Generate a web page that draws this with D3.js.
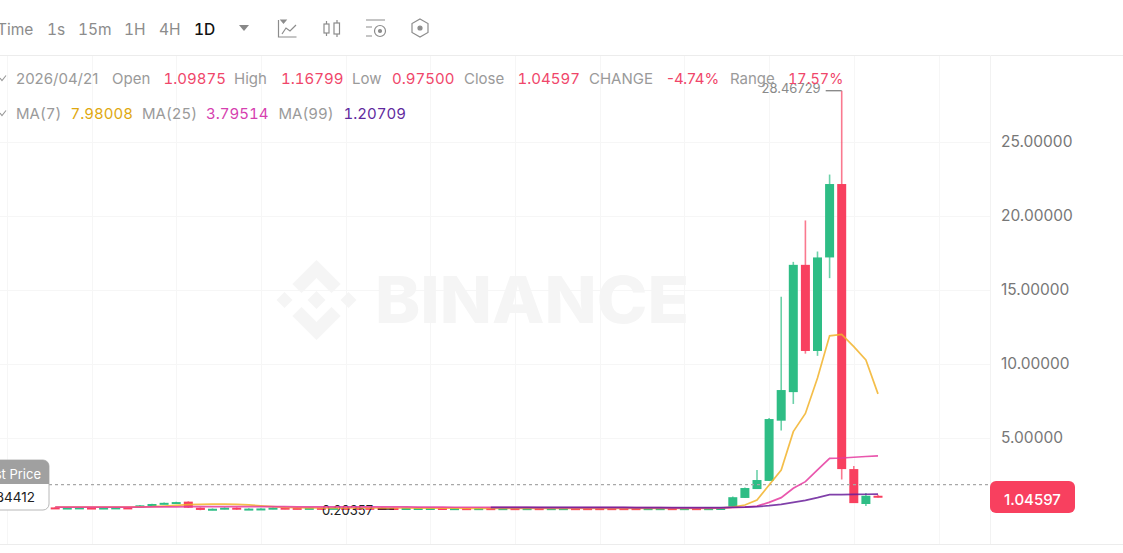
<!DOCTYPE html>
<html>
<head>
<meta charset="utf-8">
<script src="https://d3js.org/d3.v7.min.js"></script>
<style>
  html, body { margin: 0; padding: 0; background: #fff; overflow: hidden; }
  svg { display: block; }
  text { font-family: Inter, "Open Sans", sans-serif; }
</style>
</head>
<body>
<div id="chart"></div>
<script>
// daily candles, oldest first (last one is 2026/04/21)
const opens = [
  0.31, 0.22, 0.23, 0.30, 0.22, 0.23, 0.31, 0.37, 0.45, 0.54, 0.58,
  0.70, 0.29, 0.14, 0.20, 0.29, 0.15, 0.16, 0.21, 0.29, 0.28, 0.21,
  0.28, 0.21, 0.28, 0.28, 0.28, 0.28, 0.27, 0.21, 0.21, 0.21, 0.27,
  0.18, 0.26, 0.18, 0.26, 0.17, 0.26, 0.17, 0.26, 0.17, 0.18, 0.26,
  0.26, 0.26, 0.26, 0.26, 0.26, 0.17, 0.18, 0.26, 0.17, 0.26, 0.18,
  0.19, 0.36, 0.95, 1.55, 2.10, 6.17, 8.10, 16.70, 10.88, 17.20,
  22.16, 2.90, 0.54, 1.09875
];
const closes = [
  0.22, 0.30, 0.31, 0.22, 0.30, 0.31, 0.23, 0.45, 0.54, 0.62, 0.67,
  0.29, 0.14, 0.22, 0.29, 0.17, 0.23, 0.24, 0.29, 0.21, 0.21, 0.28,
  0.21, 0.28, 0.21, 0.21, 0.21, 0.21, 0.21, 0.27, 0.27, 0.27, 0.19,
  0.26, 0.18, 0.26, 0.18, 0.26, 0.17, 0.26, 0.17, 0.26, 0.26, 0.18,
  0.18, 0.18, 0.17, 0.17, 0.17, 0.26, 0.26, 0.17, 0.26, 0.17, 0.26,
  0.27, 1.00, 1.62, 2.16, 6.28, 8.24, 16.70, 10.88, 17.20, 22.16,
  2.90, 0.60, 1.10, 1.04597
];
const highs = [
  0.33, 0.32, 0.33, 0.32, 0.32, 0.33, 0.33, 0.47, 0.56, 0.64, 0.69,
  0.72, 0.31, 0.24, 0.31, 0.31, 0.25, 0.26, 0.31, 0.31, 0.30, 0.30,
  0.30, 0.30, 0.30, 0.30, 0.30, 0.30, 0.29, 0.29, 0.29, 0.29, 0.29,
  0.28, 0.28, 0.28, 0.28, 0.28, 0.28, 0.28, 0.28, 0.28, 0.28, 0.28,
  0.28, 0.28, 0.28, 0.28, 0.28, 0.28, 0.28, 0.28, 0.28, 0.28, 0.28,
  0.29, 1.05, 1.66, 2.84, 6.35, 14.55, 16.90, 19.70, 17.60, 22.80,
  28.46729, 3.10, 1.28, 1.16799
];
const lows = [
  0.20, 0.20, 0.21, 0.20, 0.20, 0.21, 0.21, 0.35, 0.43, 0.52, 0.56,
  0.27, 0.12, 0.12, 0.18, 0.15, 0.13, 0.14, 0.19, 0.19, 0.19, 0.19,
  0.19, 0.19, 0.19, 0.19, 0.19, 0.19, 0.20357, 0.21, 0.21, 0.21, 0.17,
  0.16, 0.16, 0.16, 0.16, 0.15, 0.15, 0.15, 0.15, 0.15, 0.16, 0.16,
  0.16, 0.16, 0.15, 0.15, 0.15, 0.15, 0.16, 0.15, 0.15, 0.15, 0.16,
  0.17, 0.36, 0.95, 1.55, 2.10, 5.50, 7.30, 10.70, 10.55, 15.80,
  2.20, 0.60, 0.40, 0.97500
];
const ma7 = [
  0.33, 0.33, 0.33, 0.33, 0.33, 0.33, 0.33, 0.34, 0.36, 0.40, 0.45,
  0.50, 0.52, 0.53, 0.53, 0.52, 0.48, 0.42, 0.36, 0.31, 0.29, 0.28,
  0.27, 0.27, 0.27, 0.27, 0.27, 0.27, 0.27, 0.27, 0.26, 0.26, 0.26,
  0.26, 0.25, 0.25, 0.25, 0.25, 0.25, 0.25, 0.25, 0.25, 0.25, 0.25,
  0.25, 0.25, 0.25, 0.25, 0.25, 0.25, 0.25, 0.25, 0.25, 0.25, 0.25,
  0.26, 0.33, 0.47, 0.81, 1.82, 2.84, 5.43, 6.66, 9.05, 11.90,
  12.00, 11.17, 10.27, 7.98008
];
const ma25 = [
  0.33, 0.33, 0.33, 0.33, 0.33, 0.33, 0.33, 0.33, 0.34, 0.34, 0.35,
  0.36, 0.36, 0.36, 0.36, 0.36, 0.36, 0.36, 0.36, 0.36, 0.35, 0.35,
  0.35, 0.35, 0.35, 0.35, 0.35, 0.34, 0.34, 0.34, 0.33, 0.33, 0.33,
  0.32, 0.32, 0.32, 0.31, 0.31, 0.31, 0.31, 0.30, 0.30, 0.30, 0.30,
  0.29, 0.29, 0.29, 0.29, 0.29, 0.29, 0.29, 0.28, 0.28, 0.28, 0.28,
  0.28, 0.30, 0.33, 0.40, 0.65, 0.97, 1.60, 2.05, 2.84, 3.63,
  3.65, 3.70, 3.75, 3.79514
];
const ma99 = [
  null, null, null, null, null, null, null, null, null, null, null,
  null, null, null, null, null, null, null, null, null, null, null,
  null, null, null, null, null, null, null, null, null, null, null,
  null, null, null, 0.31, 0.31, 0.31, 0.31, 0.31, 0.31, 0.31, 0.31,
  0.31, 0.31, 0.31, 0.31, 0.30, 0.30, 0.30, 0.30, 0.30, 0.30, 0.30,
  0.30, 0.32, 0.33, 0.36, 0.43, 0.52, 0.65, 0.79, 0.97, 1.17,
  1.18, 1.19, 1.20, 1.20709
];
const yTicks = [5, 10, 15, 20, 25];
const lastPrice = 1.84412;
const maxHigh = 28.46729;
const minLow = 0.20357;
const currentPrice = 1.04597;

const intervals = ["Time", "1s", "15m", "1H", "4H", "1D"];
const ohlcLabels = ["2026/04/21", "Open", "1.09875", "High", "1.16799", "Low", "0.97500",
  "Close", "1.04597", "CHANGE", "-4.74%", "Range", "17.57%"];
const maLabels = ["MA(7)", "7.98008", "MA(25)", "3.79514", "MA(99)", "1.20709"];

const W = 1123, H = 553;
const plot = { left: 0, right: 990, top: 55, bottom: 544 };
const RED = "#f8405f", GREEN = "#2ebd85", GREY = "#9a9a9a";

const svg = d3.select("#chart").append("svg").attr("width", W).attr("height", H);

const x = d3.scaleLinear().domain([0, 68]).range([55.2, 878]);
const y = d3.scaleLinear().domain([0, 25]).range([512, 142]);
const candleW = 9;

// grid, one vertical every 7 candles
const xGrid = d3.range(-4, 75, 7);
const grid = svg.append("g").attr("stroke", "#f6f6f6").attr("stroke-width", 1);
grid.selectAll(".v").data(xGrid).join("line")
  .attr("x1", d => Math.round(x(d)) + 0.5).attr("x2", d => Math.round(x(d)) + 0.5)
  .attr("y1", plot.top).attr("y2", plot.bottom);
grid.selectAll(".h").data(yTicks).join("line")
  .attr("x1", plot.left).attr("x2", plot.right)
  .attr("y1", d => y(d) + 0.5).attr("y2", d => y(d) + 0.5);

// frame lines
const frame = svg.append("g").attr("stroke", "#ececec");
frame.append("line").attr("x1", 0).attr("x2", W).attr("y1", 55.5).attr("y2", 55.5);
frame.append("line").attr("x1", 0).attr("x2", W).attr("y1", 544.5).attr("y2", 544.5);
frame.append("line").attr("x1", 990.5).attr("x2", 990.5).attr("y1", 55).attr("y2", 544).attr("stroke", "#f2f2f2");

// watermark
const mark = svg.append("g").attr("fill", "#f5f5f5");
const logo = mark.append("g").attr("transform", "translate(316.5,300)");
logo.append("path").attr("d", "M0,-40L24,-16L15,-7L0,-22L-15,-7L-24,-16Z");
logo.append("path").attr("d", "M0,40L24,16L15,7L0,22L-15,7L-24,16Z");
logo.append("path").attr("d", "M0,-9L9,0L0,9L-9,0Z");
logo.append("path").attr("d", "M-32,-8L-24,0L-32,8L-40,0Z");
logo.append("path").attr("d", "M32,-8L40,0L32,8L24,0Z");
mark.append("text").attr("x", 375).attr("y", 323)
  .attr("font-size", 64).attr("font-weight", 800)
  .attr("textLength", 314).attr("lengthAdjust", "spacingAndGlyphs")
  .text("BINANCE");

// candles
const candles = opens.map((o, i) => ({ i, o, c: closes[i], h: highs[i], l: lows[i] }));
const colour = d => d.c >= d.o ? GREEN : RED;
const cg = svg.append("g");
cg.selectAll("line").data(candles).join("line")
  .attr("x1", d => x(d.i)).attr("x2", d => x(d.i))
  .attr("y1", d => y(d.h)).attr("y2", d => y(d.l))
  .attr("stroke", colour).attr("stroke-width", 1.6).attr("stroke-opacity", 0.7);
cg.selectAll("rect").data(candles).join("rect")
  .attr("x", d => x(d.i) - candleW / 2).attr("width", candleW)
  .attr("y", d => y(Math.max(d.o, d.c)))
  .attr("height", d => Math.max(2, Math.abs(y(d.o) - y(d.c))))
  .attr("fill", colour);

// last price dashed line
svg.append("line")
  .attr("x1", 49).attr("x2", plot.right)
  .attr("y1", y(lastPrice)).attr("y2", y(lastPrice))
  .attr("stroke", "#a8a8a8").attr("stroke-width", 1.2).attr("stroke-dasharray", "3 3");

// high and low markers, the averages pass over the low label
const hiX = x(candles.findIndex(d => d.h === maxHigh));
svg.append("line").attr("x1", hiX - 16).attr("x2", hiX).attr("y1", y(maxHigh)).attr("y2", y(maxHigh))
  .attr("stroke", "#8a8a8a").attr("stroke-width", 1.4);
svg.append("text").attr("x", hiX - 21).attr("y", y(maxHigh) + 2).attr("text-anchor", "end")
  .attr("font-size", 13).attr("fill", "#8a8a8a").text(maxHigh.toFixed(5));
const loX = x(lows.indexOf(minLow));
svg.append("line").attr("x1", loX - 16).attr("x2", loX).attr("y1", y(minLow)).attr("y2", y(minLow))
  .attr("stroke", "#111").attr("stroke-width", 1.4);
svg.append("text").attr("x", loX - 21).attr("y", y(minLow) + 6).attr("text-anchor", "end")
  .attr("font-size", 13).attr("fill", "#222").text(minLow.toFixed(5));

// moving averages
const maLine = d3.line().defined(d => d !== null).x((d, i) => x(i)).y(d => y(d));
[[ma7, "#f2b32a", 1.7], [ma25, "#e5399f", 1.7], [ma99, "#6a1f9a", 1.7]].forEach(([vals, col, sw]) => {
  svg.append("path").datum(vals).attr("fill", "none")
    .attr("stroke", col).attr("stroke-width", sw).attr("stroke-opacity", 0.85)
    .attr("d", maLine);
});

// y axis
const yAxis = svg.append("g").attr("transform", "translate(1001,0)")
  .call(d3.axisRight(y).tickValues(yTicks).tickFormat(d3.format(".5f")).tickSize(0).tickPadding(0));
yAxis.select(".domain").remove();
yAxis.selectAll("text")
  .attr("font-size", 15.5).attr("fill", "#777").attr("dy", "0.3em")
  .style("font-family", "Inter, sans-serif");

// last price tag on the left, cut by the window
const tag = svg.append("g");
tag.append("rect").attr("x", -70).attr("y", 460).attr("width", 119).attr("height", 50).attr("rx", 6)
  .attr("fill", "#fff").attr("stroke", "#b8b8b8");
tag.append("path").attr("d", "M-70,484V466a6,6 0 0 1 6,-6H43a6,6 0 0 1 6,6V484Z").attr("fill", "#a0a0a0");
tag.append("text").attr("x", 41).attr("y", 478.5).attr("text-anchor", "end")
  .attr("font-size", 13).attr("fill", "#fff").text("Last Price");
tag.append("text").attr("x", 35).attr("y", 502).attr("text-anchor", "end")
  .attr("font-size", 13.5).attr("fill", "#222").text(lastPrice.toFixed(5));

// current price tag on the right
svg.append("rect").attr("x", 990).attr("y", 481).attr("width", 85).attr("height", 32).attr("rx", 6).attr("fill", RED);
svg.append("text").attr("x", 1032.5).attr("y", y(currentPrice) + 8).attr("text-anchor", "middle")
  .attr("font-size", 15).attr("font-weight", 500).attr("fill", "#fff").text(currentPrice.toFixed(5));

// toolbar
const intervalX = [-3, 47, 78, 124, 159, 194];
svg.append("g").selectAll("text").data(intervals).join("text")
  .attr("x", (d, i) => intervalX[i]).attr("y", 34.5)
  .attr("font-size", 15.5)
  .attr("font-weight", d => d === "1D" ? 500 : 400)
  .attr("fill", d => d === "1D" ? "#111" : "#8c8c8c")
  .style("font-variant-numeric", "tabular-nums")
  .text(d => d);
svg.append("path").attr("d", "M239,25L249,25L244,31Z").attr("fill", "#888");

const icons = svg.append("g").attr("fill", "none").attr("stroke", "#8c8c8c").attr("stroke-width", 1.2);
icons.append("path").attr("d", "M278.5,20V37H296.5M282,34L286,28L290,31L296,25");
icons.append("path").attr("d", "M281,20L286,20L283.5,23Z").attr("fill", "#8c8c8c");
icons.append("path").attr("d", "M326.5,21V36M337,20V37");
icons.append("rect").attr("x", 324).attr("y", 24).attr("width", 5).attr("height", 9).attr("fill", "#fff");
icons.append("rect").attr("x", 334).attr("y", 23).attr("width", 5.5).attr("height", 11).attr("fill", "#fff");
icons.append("path").attr("d", "M366,20H385M366,27H372M366,36H372");
icons.append("circle").attr("cx", 380).attr("cy", 31).attr("r", 5.5);
icons.append("circle").attr("cx", 380).attr("cy", 31).attr("r", 1.5).attr("fill", "#8c8c8c");
icons.append("path").attr("d", "M420,19L428,23.5V32.5L420,37L412,32.5V23.5Z");
icons.append("circle").attr("cx", 420).attr("cy", 28).attr("r", 2).attr("fill", "#8c8c8c");

// legend rows, prices use even digit widths like the original font
const ohlcX = [16, 112, 163.5, 234, 281, 352, 392, 464, 517.5, 589, 667, 730, 788];
svg.append("g").selectAll("text").data(ohlcLabels).join("text")
  .attr("x", (d, i) => ohlcX[i]).attr("y", 84)
  .attr("font-size", d => d === "17.57%" ? 14.4 : 15)
  .attr("fill", (d, i) => (i > 0 && i % 2 === 0) ? "#f0466a" : GREY)
  .style("font-variant-numeric", d => (d === "2026/04/21" || d === "-4.74%") ? "normal" : "tabular-nums")
  .text(d => d);
const maX = [16, 70.5, 142, 206, 278.5, 343.5];
const maCols = [GREY, "#e0a80e", GREY, "#d63fb0", GREY, "#5f2a9e"];
svg.append("g").selectAll("text").data(maLabels).join("text")
  .attr("x", (d, i) => maX[i]).attr("y", 119)
  .attr("font-size", 15)
  .attr("fill", (d, i) => maCols[i])
  .style("font-variant-numeric", "tabular-nums")
  .text(d => d);
svg.append("path").attr("d", "M0,78L2,80.5L6,75.5M0,113L2,115.5L6,110.5")
  .attr("fill", "none").attr("stroke", "#999").attr("stroke-width", 1.1);
</script>
</body>
</html>
